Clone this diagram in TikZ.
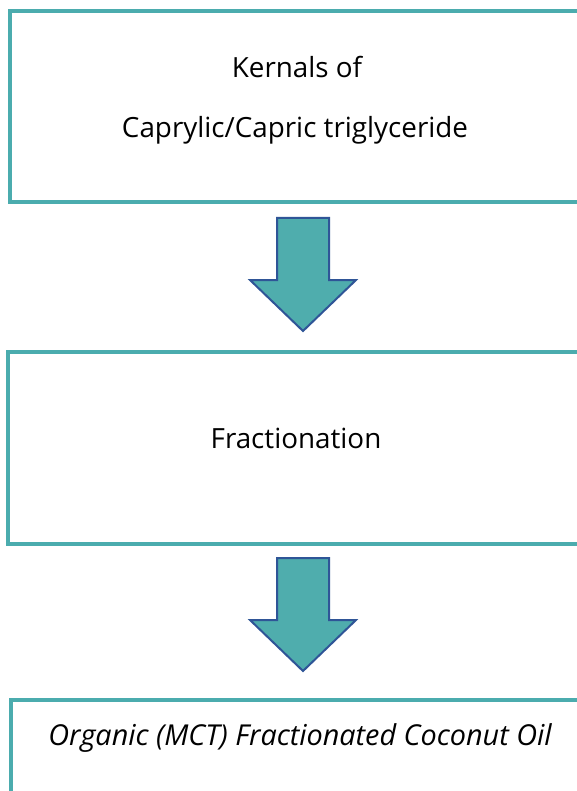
\documentclass[tikz,border=0pt]{standalone}
\usepackage{fontspec}
\setmainfont{Open Sans}
\definecolor{tealline}{HTML}{4BACAE}
\definecolor{arrowfill}{HTML}{4FADAD}
\definecolor{arrowedge}{HTML}{2F5597}
\begin{document}
\begin{tikzpicture}[x=1pt,y=-1pt,
  box/.style={draw=tealline,line width=4pt},
  label/.style={font=\fontsize{27.8}{32}\selectfont,text=black,inner sep=0pt},
  blockarrow/.style={fill=arrowfill,draw=arrowedge,line width=2pt,line join=miter}]
\clip (0,0) rectangle (577,791);
\fill[white] (0,0) rectangle (577,791);
% boxes (right side runs past the page edge)
\draw[box] (590,11.5) -- (10,11.5) -- (10,202) -- (590,202);
\draw[box] (590,352) -- (8,352) -- (8,544) -- (590,544);
\draw[box] (590,700) -- (11,700) -- (11,800);
% texts
\node[label] (k1) at (297,67) {Kernals of};
\node[label] (k2) at (295,130) {Caprylic/Capric triglyceride};
\node[label] (fr) at (296,438) {Fractionation};
\node[label,font=\fontsize{28.8}{32}\selectfont\itshape] (oil) at (300,738) {Organic (MCT) Fractionated Coconut Oil};
% block arrows
\foreach \dy/\nm in {0/a1,340/a2}{
  \coordinate (\nm) at (303,218+\dy);
  \draw[blockarrow] (277,218+\dy) -- (329,218+\dy) -- (329,280+\dy) -- (356,280+\dy)
     -- (303,331+\dy) -- (250,280+\dy) -- (277,280+\dy) -- cycle;
}
\end{tikzpicture}
\end{document}
